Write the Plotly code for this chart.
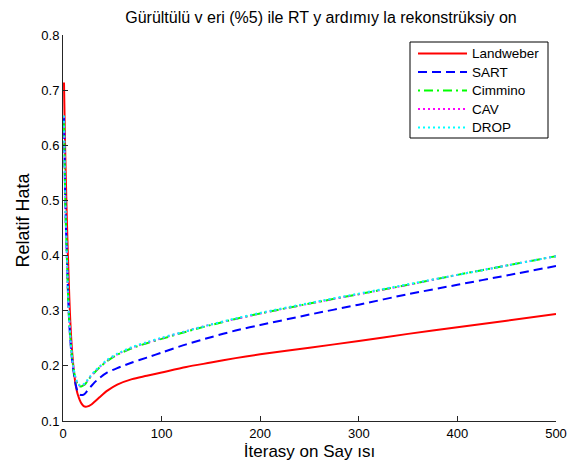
import plotly.graph_objects as go

# Iteration numbers at which the relative error was sampled
iterations = [1, 2, 3, 4, 5, 6, 7, 8, 9, 10, 11, 12, 13, 14, 15, 17, 19, 21, 23, 25,
              28, 32, 37, 45, 55, 70, 85, 100, 125, 150, 175, 200, 250, 300, 350,
              400, 450, 500]

landweber = [0.714, 0.610, 0.530, 0.460, 0.400, 0.345, 0.297, 0.260, 0.232, 0.210,
             0.190, 0.176, 0.164, 0.155, 0.148, 0.138, 0.131, 0.127, 0.126, 0.1265,
             0.129, 0.135, 0.143, 0.155, 0.166, 0.176, 0.182, 0.188, 0.198, 0.206,
             0.214, 0.221, 0.233, 0.245, 0.258, 0.270, 0.282, 0.294]

sart = [0.653, 0.530, 0.450, 0.395, 0.335, 0.290, 0.258, 0.233, 0.214, 0.199,
        0.186, 0.174, 0.165, 0.158, 0.153, 0.148, 0.147, 0.148, 0.151, 0.156,
        0.162, 0.170, 0.178, 0.188, 0.196, 0.206, 0.215, 0.224, 0.239, 0.252,
        0.264, 0.274, 0.293, 0.311, 0.330, 0.347, 0.364, 0.381]

cimmino = [0.653, 0.530, 0.450, 0.395, 0.335, 0.292, 0.262, 0.237, 0.218, 0.203,
           0.191, 0.182, 0.175, 0.170, 0.166, 0.163, 0.163, 0.165, 0.168, 0.173,
           0.180, 0.188, 0.197, 0.209, 0.220, 0.232, 0.241, 0.249, 0.262, 0.274,
           0.285, 0.295, 0.313, 0.330, 0.347, 0.365, 0.382, 0.399]

cav = [0.653, 0.531, 0.451, 0.396, 0.336, 0.293, 0.263, 0.238, 0.219, 0.204,
       0.192, 0.183, 0.176, 0.171, 0.167, 0.164, 0.164, 0.166, 0.169, 0.174,
       0.181, 0.189, 0.198, 0.210, 0.221, 0.233, 0.242, 0.250, 0.263, 0.275,
       0.285, 0.295, 0.313, 0.330, 0.347, 0.365, 0.382, 0.399]

drop = [0.654, 0.532, 0.452, 0.397, 0.337, 0.294, 0.264, 0.239, 0.220, 0.205,
        0.193, 0.184, 0.177, 0.172, 0.168, 0.165, 0.165, 0.167, 0.170, 0.175,
        0.182, 0.190, 0.199, 0.211, 0.222, 0.234, 0.243, 0.251, 0.263, 0.275,
        0.286, 0.296, 0.314, 0.331, 0.348, 0.365, 0.382, 0.399]

series = [
    ("Landweber", landweber, "#ff0000", "solid"),
    ("SART", sart, "#0000ff", "9px,5px"),
    ("Cimmino", cimmino, "#00ff00", "2px,4px,9px,4px"),
    ("CAV", cav, "#ff00ff", "2px,3px"),
    ("DROP", drop, "#00ffff", "2px,3px"),
]

font_family = "Liberation Sans, Arial, sans-serif"
W, H = 582, 466
M_L, M_R, M_T, M_B = 63, 26, 35, 45
plot_w = W - M_L - M_R
plot_h = H - M_T - M_B


def px_x(p):
    """Horizontal pixel position -> paper coordinate."""
    return (p - M_L) / plot_w


def px_y(p):
    """Vertical pixel position (from top) -> paper coordinate."""
    return (H - M_B - p) / plot_h


fig = go.Figure()
for name, values, color, dash in series:
    fig.add_trace(go.Scatter(
        x=iterations, y=values, name=name, mode="lines",
        line=dict(color=color, width=2, dash=dash, shape="spline", smoothing=0.8),
    ))

# Boxed legend in the upper-right corner, MATLAB style
legend_box = (410, 42, 548, 138)
legend_row0, legend_step = 53.5, 18.5
shapes = [dict(
    type="rect", xref="paper", yref="paper",
    x0=px_x(legend_box[0]), x1=px_x(legend_box[2]),
    y0=px_y(legend_box[3]), y1=px_y(legend_box[1]),
    line=dict(color="#000000", width=1), fillcolor="white", layer="above",
)]
annotations = []
for i, (name, _, color, dash) in enumerate(series):
    yy = px_y(legend_row0 + i * legend_step)
    shapes.append(dict(
        type="line", xref="paper", yref="paper",
        x0=px_x(418), x1=px_x(467), y0=yy, y1=yy,
        line=dict(color=color, width=2, dash=dash), layer="above",
    ))
    annotations.append(dict(
        text=name, showarrow=False, xref="paper", yref="paper",
        x=px_x(470), y=yy, xanchor="left", yanchor="middle",
        font=dict(family=font_family, size=13.5, color="#000000"),
    ))

annotations.append(dict(
    text="Relatif Hata", textangle=-90, showarrow=False,
    xref="paper", yref="paper",
    x=px_x(22.5), y=px_y(220),
    xanchor="center", yanchor="middle",
    font=dict(family=font_family, size=18, color="#000000"),
))

axis_common = dict(
    showgrid=False, zeroline=False, showline=True, linecolor="#262626", linewidth=1,
    ticks="inside", ticklen=5, tickcolor="#262626", mirror=False,
    tickfont=dict(family=font_family, size=13, color="#000000"),
    automargin=False,
)

fig.update_layout(
    width=W, height=H,
    margin=dict(l=M_L, r=M_R, t=M_T, b=M_B),
    paper_bgcolor="white", plot_bgcolor="white",
    font=dict(family=font_family, size=13, color="#000000"),
    title=dict(
        text="Gürültülü v eri (%5) ile RT y ardımıy la rekonstrüksiy on",
        x=px_x(321), xref="paper", xanchor="center",
        y=1 - 17 / H, yref="container", yanchor="middle",
        font=dict(family=font_family, size=16, color="#000000"),
    ),
    xaxis=dict(
        range=[0, 500], tickvals=[0, 100, 200, 300, 400, 500],
        title=dict(text="İterasy on Say ısı", standoff=5,
                   font=dict(family=font_family, size=17, color="#000000")),
        **axis_common,
    ),
    yaxis=dict(
        range=[0.1, 0.8], tickvals=[0.1, 0.2, 0.3, 0.4, 0.5, 0.6, 0.7, 0.8],
        tickformat=".1f",
        **axis_common,
    ),
    showlegend=False,
    shapes=shapes,
    annotations=annotations,
)

fig.write_html("out.html")
